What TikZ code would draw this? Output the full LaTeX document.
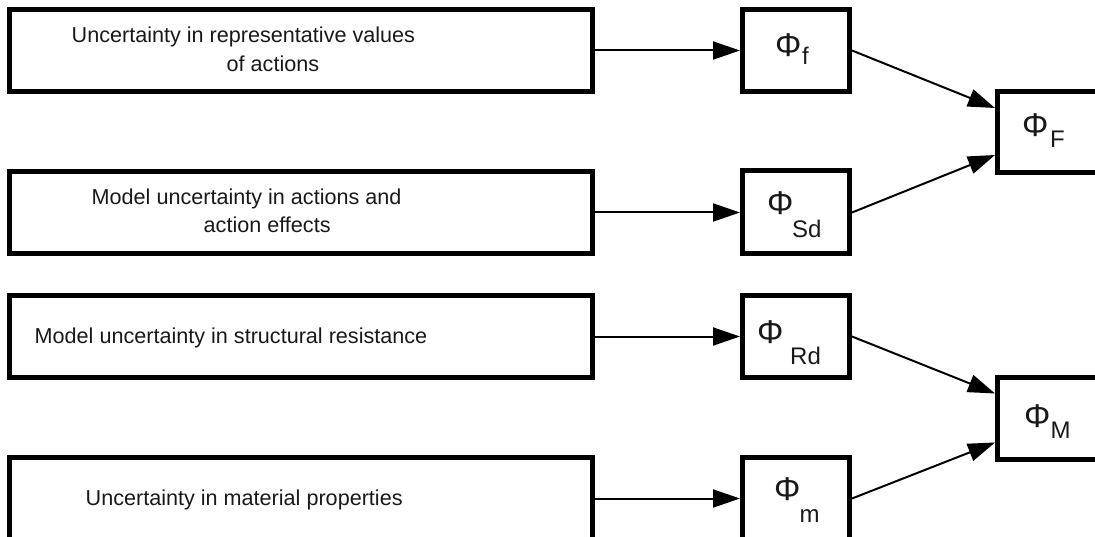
\documentclass[tikz,border=0pt]{standalone}
\usepackage{fontspec}
\setmainfont{Liberation Sans}
\usetikzlibrary{arrows.meta}
\tikzset{
  bigbox/.style={draw, line width=5pt, minimum width=583pt, minimum height=82pt, inner sep=0pt},
  phibox/.style={draw, line width=5pt, minimum width=107pt, minimum height=82pt, inner sep=0pt},
  txt/.style={anchor=base west, inner sep=0pt, text=black!90, font=\fontsize{21.6}{21.6}\selectfont},
  phi/.style={anchor=base west, inner sep=0pt, text=black!90, font=\fontsize{33}{33}\selectfont},
  sub/.style={anchor=base west, inner sep=0pt, text=black!90, font=\fontsize{24}{24}\selectfont},
  arr/.style={line width=2pt, -{Triangle[length=27pt,width=18pt]}},
}
\begin{document}
\begin{tikzpicture}[x=1pt,y=-1pt]
\useasboundingbox (0,0) rectangle (1095,537);
\clip (0,0) rectangle (1095,537);
% left boxes
\node[bigbox] (b1) at (301,50.5) {};
\node[bigbox] (b2) at (301,212.5) {};
\node[bigbox] (b3) at (301,336.5) {};
\node[bigbox] (b4) at (301,498.5) {};
% phi boxes
\node[phibox] (pf) at (796,50.5) {};
\node[phibox, minimum height=83pt] (psd) at (796,212.5) {};
\node[phibox] (prd) at (796,336.5) {};
\node[phibox] (pm) at (796,498.5) {};
\node[phibox, minimum height=81pt] (pF) at (1051,132) {};
\node[phibox] (pM) at (1051,418.5) {};
% texts
\node[txt] (t1a) at (71.5,43) {Uncertainty in representative values};
\node[txt] (t1b) at (226.5,72) {of actions};
\node[txt] (t2a) at (91.5,205) {Model uncertainty in actions and};
\node[txt] (t2b) at (203.5,233) {action effects};
\node[txt] (t3) at (34.5,343) {Model uncertainty in structural resistance};
\node[txt] (t4) at (85.5,505) {Uncertainty in material properties};
% phi labels
\node[phi] (lf) at (775,57) {Φ};
\node[sub] (sf) at (802,65) {f};
\node[phi] (lsd) at (767,215) {Φ};
\node[sub] (ssd) at (792,238) {Sd};
\node[phi] (lrd) at (757,343) {Φ};
\node[sub] (srd) at (790,364) {Rd};
\node[phi] (lm) at (774,500) {Φ};
\node[sub] (sm) at (799.5,522) {m};
\node[phi] (lF) at (1022,137) {Φ};
\node[sub] (sF) at (1050,148) {F};
\node[phi] (lM) at (1024,427) {Φ};
\node[sub] (sM) at (1050.5,438) {M};
% arrows
\draw[arr] (b1.east) -- (pf.west);
\draw[arr] (b2.east) -- (psd.west);
\draw[arr] (b3.east) -- (prd.west);
\draw[arr] (b4.east) -- (pm.west);
\draw[arr] (pf.east) -- ([yshift=24pt]pF.west);
\draw[arr] (psd.east) -- ([yshift=-23pt]pF.west);
\draw[arr] (prd.east) -- ([yshift=25pt]pM.west);
\draw[arr] (pm.east) -- ([yshift=-24pt]pM.west);
\end{tikzpicture}
\end{document}
